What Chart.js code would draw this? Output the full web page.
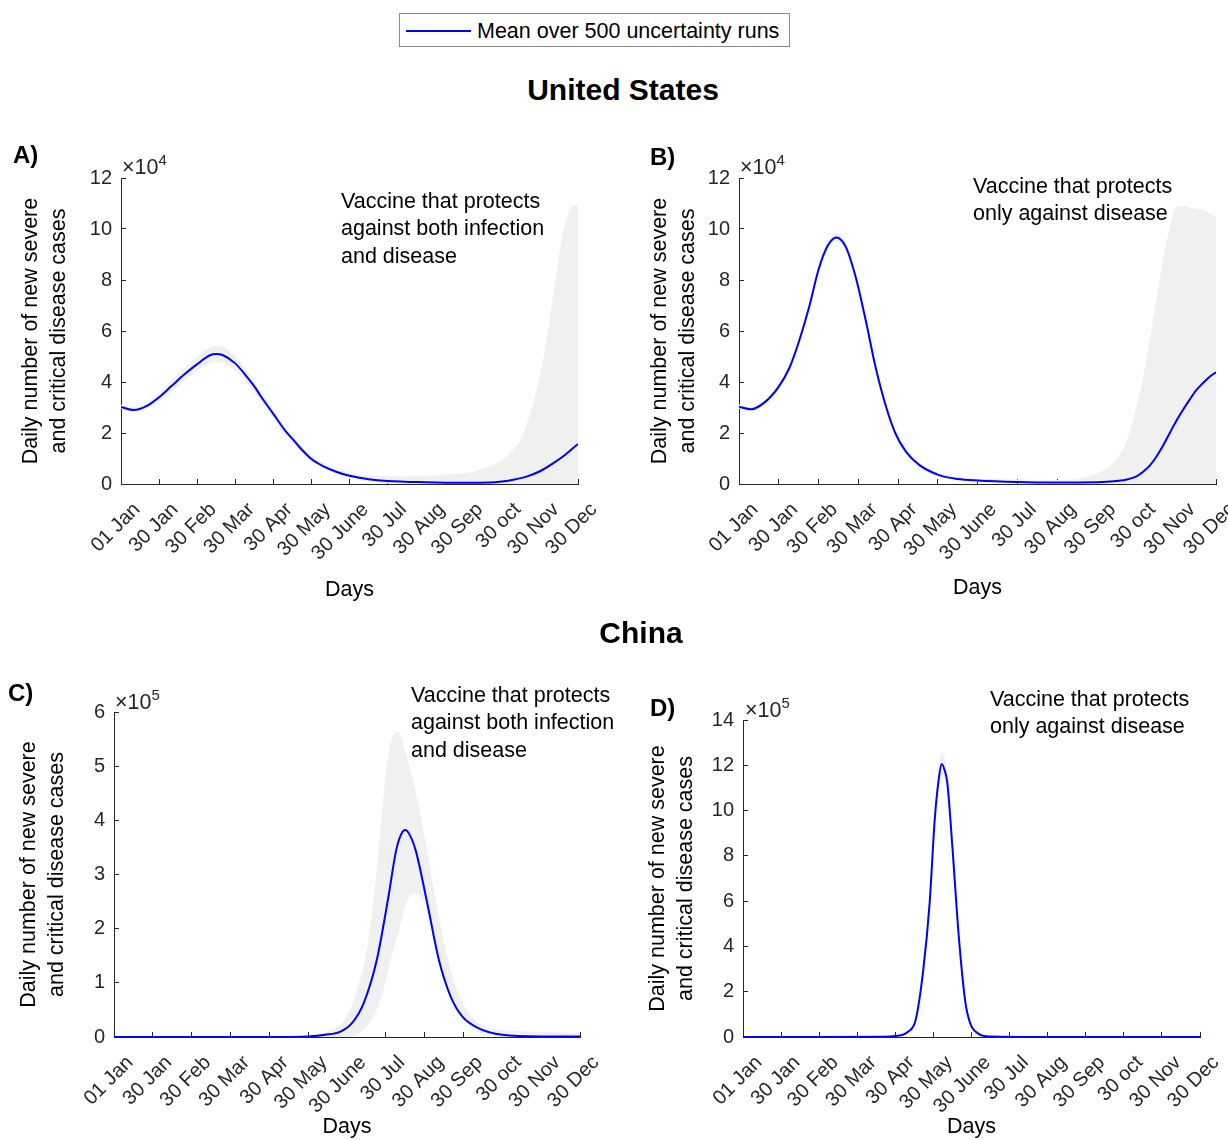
<!DOCTYPE html>
<html>
<head>
<meta charset="utf-8">
<script src="https://cdn.jsdelivr.net/npm/chart.js@4.4.0/dist/chart.umd.min.js"></script>
<style>
  body { margin: 0; background: #fff; font-family: 'Liberation Sans', Arial, sans-serif; }
  #page { position: relative; width: 1228px; height: 1140px; overflow: hidden; }
  canvas { position: absolute; }
  .txt { position: absolute; white-space: nowrap; color: #000; font-size: 21.5px; line-height: 27.3px; }
  .head { position: absolute; white-space: nowrap; font-weight: bold; font-size: 30px; line-height: 34px; transform: translateX(-50%); }
  .letter { position: absolute; font-weight: bold; font-size: 24px; line-height: 28px; }
  .exp { position: absolute; white-space: nowrap; font-size: 21.5px; line-height: 24px; color: #262626; }
  .exp sup { font-size: 15px; vertical-align: 9px; line-height: 0; }
  .legend { position: absolute; border: 1px solid #8a8a8a; background: #fff; }
  .legend .swatch { position: absolute; left: 6px; top: 16px; width: 65px; border-top: 2px solid #0000ff; }
  .legend .label { position: absolute; left: 77px; top: 4px; font-size: 21.5px; line-height: 26px; white-space: nowrap; }
</style>
</head>
<body>
<div id="page">
  <canvas id="chart-a" width="614" height="480" style="left:0px;top:140px"></canvas>
  <canvas id="chart-b" width="614" height="480" style="left:614px;top:140px"></canvas>
  <canvas id="chart-c" width="614" height="480" style="left:0px;top:660px"></canvas>
  <canvas id="chart-d" width="614" height="480" style="left:614px;top:660px"></canvas>

  <div class="legend" style="left:399px;top:13px;width:389px;height:32px">
    <div class="swatch"></div>
    <div class="label">Mean over 500 uncertainty runs</div>
  </div>

  <div class="head" style="left:623px;top:73px">United States</div>
  <div class="head" style="left:641px;top:616px">China</div>

  <div class="letter" style="left:13px;top:141px">A)</div>
  <div class="letter" style="left:650px;top:143px">B)</div>
  <div class="letter" style="left:8px;top:679px">C)</div>
  <div class="letter" style="left:650px;top:694px">D)</div>

  <div class="exp" style="left:122px;top:155px">×10<sup>4</sup></div>
  <div class="exp" style="left:740px;top:155px">×10<sup>4</sup></div>
  <div class="exp" style="left:115px;top:690px">×10<sup>5</sup></div>
  <div class="exp" style="left:745px;top:698px">×10<sup>5</sup></div>

  <div class="txt" style="left:341px;top:188px">Vaccine that protects<br>against both infection<br>and disease</div>
  <div class="txt" style="left:973px;top:173px">Vaccine that protects<br>only against disease</div>
  <div class="txt" style="left:411px;top:682px">Vaccine that protects<br>against both infection<br>and disease</div>
  <div class="txt" style="left:990px;top:686px">Vaccine that protects<br>only against disease</div>
</div>

<script>
// x axis: day of year, one tick every 30 days
const tickLabels = ['01 Jan', '30 Jan', '30 Feb', '30 Mar', '30 Apr', '30 May', '30 June',
  '30 Jul', '30 Aug', '30 Sep', '30 oct', '30 Nov', '30 Dec'];

// A) United States, infection + disease vaccine (x10^4)
const daysA = [0, 10, 20, 30, 40, 50, 60, 70, 75, 80, 90, 100, 106, 110, 120, 130, 137, 140, 150, 160, 170, 180, 195, 210, 240, 270, 290, 300, 310, 320, 330, 340, 350, 360];
const meanA = [3.02, 2.9, 3.05, 3.4, 3.85, 4.3, 4.7, 5.05, 5.1, 5.06, 4.73, 4.15, 3.76, 3.45, 2.75, 2.05, 1.66, 1.48, 0.98, 0.68, 0.47, 0.32, 0.19, 0.12, 0.07, 0.05, 0.06, 0.1, 0.18, 0.3, 0.5, 0.8, 1.15, 1.57];
const bandDaysA = [0, 10, 20, 30, 40, 50, 60, 70, 75, 80, 90, 100, 110, 120, 130, 140, 150, 160, 170, 180, 195, 210, 240, 260, 277, 290, 296, 303, 309, 315, 320, 327, 333, 338, 343, 348, 354, 359, 360];
const upperA = [3.12, 3.0, 3.2, 3.55, 4.05, 4.55, 5.0, 5.35, 5.42, 5.38, 5.02, 4.4, 3.62, 2.88, 2.2, 1.62, 1.12, 0.8, 0.6, 0.45, 0.33, 0.3, 0.32, 0.38, 0.48, 0.68, 0.81, 1.05, 1.33, 1.8, 2.4, 3.6, 5.0, 6.56, 8.26, 9.83, 10.75, 10.94, 10.94];
const lowerA = [2.95, 2.82, 2.95, 3.25, 3.65, 4.05, 4.42, 4.75, 4.8, 4.76, 4.46, 3.9, 3.25, 2.58, 1.9, 1.36, 0.9, 0.6, 0.4, 0.25, 0.1, 0.03, 0, 0, 0, 0, 0, 0, 0, 0, 0, 0, 0, 0, 0, 0, 0, 0, 0];

// B) United States, disease-only vaccine (x10^4)
const daysB = [0, 9, 20, 30, 38, 45, 53, 60, 67, 73.5, 80.5, 88, 95.6, 103, 111, 118, 126, 136, 151, 165, 180, 210, 240, 270, 280, 292, 300, 305, 310, 315, 320, 325, 330, 335, 340, 345, 350, 355, 360];
const meanB = [3.03, 2.93, 3.23, 3.82, 4.55, 5.55, 6.95, 8.4, 9.35, 9.67, 9.31, 8.13, 6.43, 4.6, 3.03, 1.99, 1.27, 0.75, 0.35, 0.2, 0.14, 0.08, 0.06, 0.07, 0.1, 0.17, 0.3, 0.48, 0.72, 1.07, 1.5, 1.99, 2.47, 2.9, 3.3, 3.67, 3.95, 4.2, 4.38];
const bandDaysB = [0, 9, 20, 30, 38, 45, 53, 60, 67, 73.5, 80.5, 88, 95.6, 103, 111, 118, 126, 136, 151, 180, 210, 242, 267, 282, 292, 300, 308, 315, 321.5, 328, 333, 343, 353, 359, 360];
const upperB = [3.13, 3.03, 3.33, 3.94, 4.69, 5.7, 7.11, 8.58, 9.53, 9.82, 9.48, 8.3, 6.6, 4.76, 3.17, 2.1, 1.37, 0.84, 0.42, 0.22, 0.18, 0.16, 0.35, 0.81, 1.6, 3.03, 4.99, 7.22, 9.18, 10.62, 10.9, 10.81, 10.68, 10.48, 10.45];
const lowerB = [2.95, 2.85, 3.13, 3.7, 4.41, 5.4, 6.79, 8.22, 9.18, 9.52, 9.14, 7.96, 6.26, 4.44, 2.9, 1.88, 1.17, 0.66, 0.28, 0.08, 0.03, 0, 0, 0, 0, 0, 0, 0, 0, 0, 0, 0, 0, 0, 0];

// C) China, infection + disease vaccine (x10^5)
const daysC = [0, 60, 120, 150, 163, 175, 184, 193, 203, 212, 218, 222, 225, 228, 233, 242, 251, 260, 269, 281, 300, 330, 360];
const meanC = [0, 0, 0, 0.01, 0.04, 0.1, 0.26, 0.63, 1.42, 2.59, 3.45, 3.75, 3.82, 3.75, 3.45, 2.47, 1.42, 0.75, 0.38, 0.17, 0.04, 0.01, 0.01];
const bandDaysC = [0, 150, 165, 178, 188, 197, 203, 209, 215, 220, 224, 231, 240, 249, 258, 267, 276, 291, 321, 360];
const upperC = [0, 0.02, 0.1, 0.32, 0.87, 1.85, 3.08, 4.62, 5.54, 5.63, 5.35, 4.74, 3.69, 2.47, 1.42, 0.75, 0.38, 0.16, 0.1, 0.07];
const lowerC = [0, 0, 0, 0, 0.05, 0.25, 0.5, 0.95, 1.55, 1.95, 2.35, 2.65, 2.45, 1.65, 0.92, 0.44, 0.17, 0.02, 0, 0];

// D) China, disease-only vaccine (x10^5)
const daysD = [0, 60, 110, 120, 130, 136, 142, 147, 151, 154, 156.5, 159, 161, 165, 170, 175, 179, 185, 194, 240, 300, 360];
const meanD = [0, 0, 0.01, 0.04, 0.23, 0.75, 2.96, 5.9, 9.58, 11.3, 12.06, 11.75, 11.2, 8.35, 4.43, 1.6, 0.6, 0.16, 0.02, 0, 0, 0];
const bandDaysD = [0, 120, 130, 136, 142, 147, 151, 154, 156.5, 159, 161, 165, 170, 175, 179, 185, 200, 360];
const upperD = [0, 0.06, 0.28, 0.85, 3.15, 6.2, 10.0, 11.9, 12.55, 12.3, 11.75, 8.7, 4.7, 1.85, 0.7, 0.2, 0.03, 0];
const lowerD = [0, 0.03, 0.19, 0.66, 2.8, 5.6, 9.2, 10.9, 11.6, 11.3, 10.85, 8.0, 4.15, 1.45, 0.52, 0.13, 0.01, 0];

const axisColor = '#262626';
const yTitle = ['Daily number of new severe', 'and critical disease cases'];

Chart.defaults.font.family = "'Liberation Sans', Arial, sans-serif";

let toPoints = (days, values) => days.map((d, i) => ({x: d, y: values[i]}));

let makePanel = (canvasId, p) => {
  const ctx = document.querySelector(canvasId).getContext('2d');
  return new Chart(ctx, {
    type: 'line',
    data: {
      datasets: [
        { data: toPoints(p.days, p.mean), borderColor: '#0000ff', borderWidth: 2, pointRadius: 0, fill: false, cubicInterpolationMode: 'monotone' },
        { data: toPoints(p.bandDays, p.upper), borderColor: 'rgba(0,0,0,0)', borderWidth: 1, pointRadius: 0, backgroundColor: '#f0f0f0', fill: '+1', cubicInterpolationMode: 'monotone' },
        { data: toPoints(p.bandDays, p.lower), borderColor: 'rgba(0,0,0,0)', borderWidth: 1, pointRadius: 0, fill: false, cubicInterpolationMode: 'monotone' }
      ]
    },
    options: {
      responsive: false,
      animation: false,
      events: [],
      layout: { autoPadding: false, padding: { left: 0, top: p.top, right: p.right, bottom: 0 } },
      plugins: { legend: { display: false }, tooltip: { enabled: false } },
      scales: {
        x: {
          type: 'linear', min: 0, max: 360,
          afterFit: s => { s.height = p.xHeight; s.paddingLeft = 0; s.paddingRight = 0; },
          border: { color: axisColor, width: 1 },
          grid: { drawOnChartArea: false, tickLength: -5, color: axisColor },
          ticks: {
            stepSize: 30, autoSkip: false, minRotation: 45, maxRotation: 45,
            padding: 19, labelOffset: 16, color: axisColor, font: { size: 20 },
            callback: v => tickLabels[Math.round(v / 30)]
          },
          title: { display: true, text: 'Days', color: '#000', font: { size: 21.5 }, padding: { top: 0, bottom: p.daysPad } }
        },
        y: {
          min: 0, max: p.yMax,
          afterFit: s => { s.width = p.yWidth; },
          border: { color: axisColor, width: 1 },
          grid: { drawOnChartArea: false, tickLength: -5, color: axisColor },
          ticks: { stepSize: p.yStep, padding: 14, color: axisColor, font: { size: 20 } },
          title: { display: true, text: yTitle, color: '#000', font: { size: 21.5, lineHeight: 1.3 }, padding: { top: p.titlePad, bottom: 0 } }
        }
      }
    }
  });
};

makePanel('#chart-a', { days: daysA, mean: meanA, bandDays: bandDaysA, upper: upperA, lower: lowerA,
  yMax: 12, yStep: 2, top: 38, right: 36, yWidth: 121, xHeight: 136, titlePad: 17, daysPad: 17 });
makePanel('#chart-b', { days: daysB, mean: meanB, bandDays: bandDaysB, upper: upperB, lower: lowerB,
  yMax: 12, yStep: 2, top: 38, right: 12, yWidth: 125, xHeight: 136, titlePad: 32, daysPad: 19 });
makePanel('#chart-c', { days: daysC, mean: meanC, bandDays: bandDaysC, upper: upperC, lower: lowerC,
  yMax: 6, yStep: 1, top: 52, right: 34, yWidth: 114, xHeight: 103, titlePad: 15, daysPad: 0 });
makePanel('#chart-d', { days: daysD, mean: meanD, bandDays: bandDaysD, upper: upperD, lower: lowerD,
  yMax: 14, yStep: 2, top: 60, right: 28, yWidth: 129, xHeight: 103, titlePad: 30, daysPad: 0 });
</script>
</body>
</html>
